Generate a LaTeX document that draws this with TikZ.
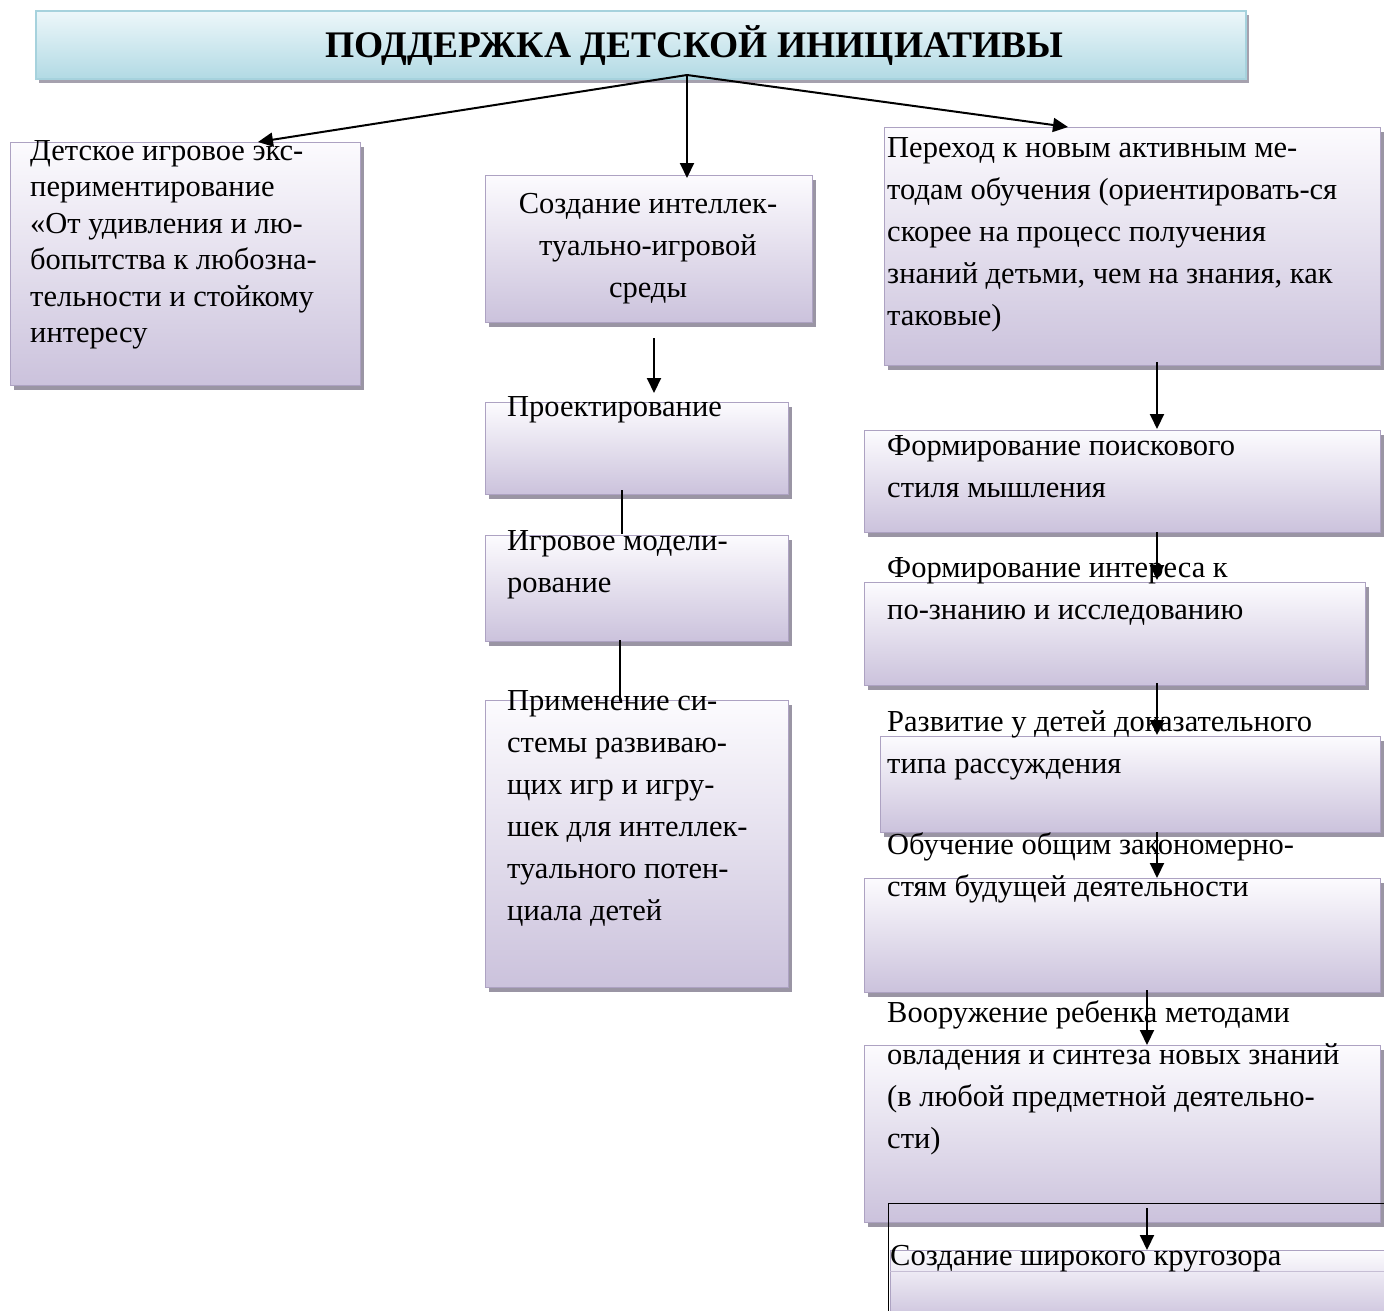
\documentclass[tikz,border=0pt]{standalone}
\usepackage{fontspec}
\setmainfont{Liberation Serif}
\usetikzlibrary{arrows.meta,shadows}
\definecolor{lavtop}{HTML}{FCFBFE}
\definecolor{lavbot}{HTML}{CBC2DC}
\definecolor{lavedge}{HTML}{ADA2C2}
\definecolor{shad}{HTML}{8F8A9A}
\definecolor{bluetop}{HTML}{EDF7FA}
\definecolor{bluebot}{HTML}{B2DAE4}
\definecolor{blueedge}{HTML}{A6D2DD}
\tikzset{
  pbox/.style={draw=lavedge, line width=1.2pt, top color=lavtop, bottom color=lavbot,
    anchor=north west, inner sep=0pt,
    drop shadow={shadow xshift=3pt, shadow yshift=-4pt, fill=shad, opacity=0.9}},
  tbox/.style={draw=blueedge, line width=1.5pt, top color=bluetop, bottom color=bluebot,
    anchor=north west, inner sep=0pt,
    drop shadow={shadow xshift=3pt, shadow yshift=-4pt, fill=shad, opacity=0.8}},
  txt/.style={anchor=north west, align=left, inner sep=0pt, font=\fontsize{30.5}{42}\selectfont},
  txtL/.style={txt, font=\fontsize{30.5}{36.5}\selectfont},
  conn/.style={line width=2pt, -{Triangle[length=15pt,width=14pt]}},
  link/.style={line width=1.5pt},
}
\begin{document}
\begin{tikzpicture}[x=1pt,y=-1pt]
\useasboundingbox (0,0) rectangle (1384,1310);
% boxes
\node[tbox, minimum width=1210, minimum height=68] (title) at (35,10) {};
\node[pbox, minimum width=350, minimum height=243] (L) at (10,142) {};
\node[pbox, minimum width=327, minimum height=147] (C1) at (485,175) {};
\node[pbox, minimum width=303, minimum height=92] (C2) at (485,402) {};
\node[pbox, minimum width=303, minimum height=106] (C3) at (485,535) {};
\node[pbox, minimum width=303, minimum height=287] (C4) at (485,700) {};
\node[pbox, minimum width=496, minimum height=238] (R1) at (884,127) {};
\node[pbox, minimum width=516, minimum height=102] (R2) at (864,430) {};
\node[pbox, minimum width=501, minimum height=103] (R3) at (864,582) {};
\node[pbox, minimum width=500, minimum height=96] (R4) at (880,736) {};
\node[pbox, minimum width=516, minimum height=114] (R5) at (864,878) {};
\node[pbox, minimum width=516, minimum height=177] (R6) at (864,1045) {};
\node[draw=black, line width=0.8pt, anchor=north west, inner sep=0pt, minimum width=520, minimum height=130] (frame) at (888,1203) {};
\node[pbox, minimum width=500, minimum height=70] (R7) at (890,1250) {};
\draw[draw=lavedge!70, line width=0.8pt] (R7.west |- 0,1271) -- (R7.east |- 0,1271);
% texts
\node[font=\fontsize{37.5}{40}\selectfont\bfseries, inner sep=0pt] (ttitle) at (694,46) {ПОДДЕРЖКА ДЕТСКОЙ ИНИЦИАТИВЫ};
\node[txtL] (tL) at (30,140) {Детское игровое экс-\\периментирование\\«От удивления и лю-\\бопытства к любозна-\\тельности и стойкому\\интересу};
\node[txt, anchor=north, align=center] (tC1) at (648,193) {Создание интеллек-\\туально-игровой\\среды};
\node[txt] (tC2) at (507,396) {Проектирование};
\node[txt] (tC3) at (507,530) {Игровое модели-\\рование};
\node[txt] (tC4) at (507,690) {Применение си-\\стемы развиваю-\\щих игр и игру-\\шек для интеллек-\\туального потен-\\циала детей};
\node[txt] (tR1) at (887,137) {Переход к новым активным ме-\\тодам обучения (ориентировать-ся\\скорее на процесс получения\\знаний детьми, чем на знания, как\\таковые)};
\node[txt] (tR2) at (887,435) {Формирование поискового\\стиля мышления};
\node[txt] (tR3) at (887,557) {Формирование интереса к\\по-знанию и исследованию};
\node[txt] (tR4) at (887,710) {Развитие у детей доказательного\\типа рассуждения};
\node[txt] (tR5) at (887,832) {Обучение общим закономерно-\\стям будущей деятельности};
\node[txt] (tR6) at (887,1000) {Вооружение ребенка методами\\овладения и синтеза новых знаний\\(в любой предметной деятельно-\\сти)};
\node[txt] (tR7) at (890,1245) {Создание широкого кругозора};
% connector points
\coordinate (o) at (687,75);
\coordinate (aL) at (258,142);
\coordinate (aC) at (687,178);
\coordinate (aR) at (1068,127);
\coordinate (c1s) at (654,338); \coordinate (c2n) at (654,393);
\coordinate (c2s) at (622,490); \coordinate (c3n) at (622,534);
\coordinate (c3s) at (620,640); \coordinate (c4n) at (620,701);
\coordinate (r1s) at (1157,362); \coordinate (r2n) at (1157,429);
\coordinate (r2s) at (1157,532); \coordinate (r3n) at (1157,580);
\coordinate (r3s) at (1157,683); \coordinate (r4n) at (1157,735);
\coordinate (r4s) at (1157,832); \coordinate (r5n) at (1157,878);
\coordinate (r5s) at (1147,990); \coordinate (r6n) at (1147,1045);
\coordinate (r6s) at (1147,1208); \coordinate (r7n) at (1147,1250);
% connectors
\draw[conn] (o) -- (aL);
\draw[conn] (o) -- (aC);
\draw[conn] (o) -- (aR);
\draw[conn] (c1s) -- (c2n);
\draw[link] (c2s) -- (c3n);
\draw[link] (c3s) -- (c4n);
\draw[conn] (r1s) -- (r2n);
\draw[conn] (r2s) -- (r3n);
\draw[conn] (r3s) -- (r4n);
\draw[conn] (r4s) -- (r5n);
\draw[conn] (r5s) -- (r6n);
\draw[conn] (r6s) -- (r7n);
\end{tikzpicture}
\end{document}
